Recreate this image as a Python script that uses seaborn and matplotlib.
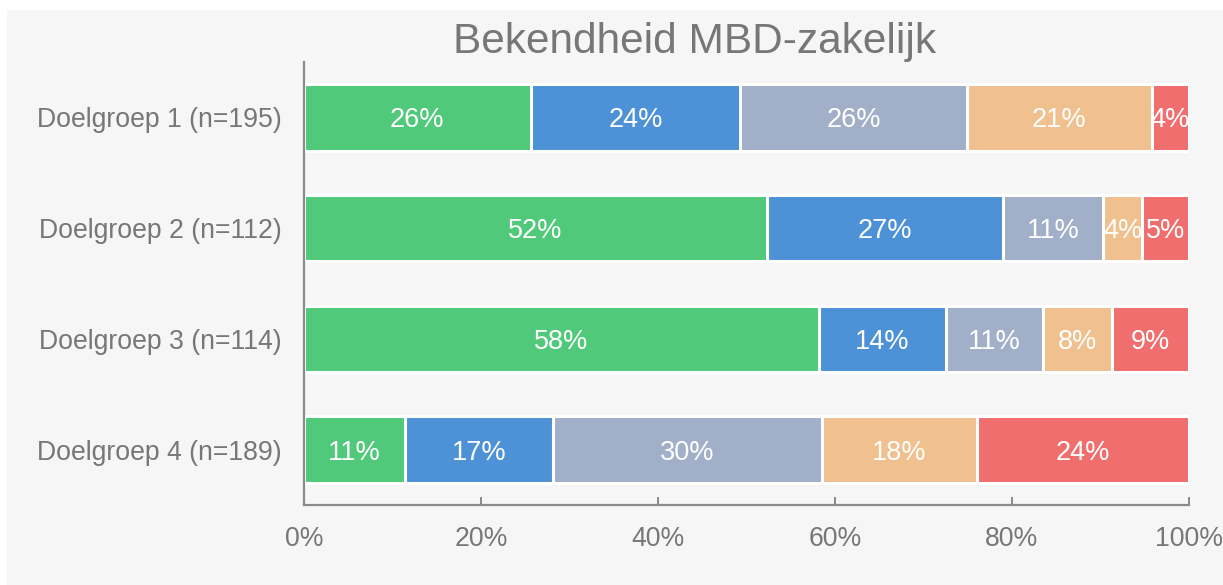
import numpy as np
import pandas as pd
import seaborn as sns
import matplotlib.pyplot as plt
from matplotlib.patches import Rectangle
from matplotlib.ticker import FuncFormatter

#Data (percentages per target group)
groups = ['Doelgroep 1 (n=195)', 'Doelgroep 2 (n=112)',
          'Doelgroep 3 (n=114)', 'Doelgroep 4 (n=189)']
series = ['Antwoord 1', 'Antwoord 2', 'Antwoord 3', 'Antwoord 4', 'Antwoord 5']
answer_1 = [25.6, 52.3, 58.2, 11.4]
answer_2 = [23.7, 26.7, 14.3, 16.7]
answer_3 = [25.6, 11.3, 11.0, 30.4]
answer_4 = [20.9, 4.4, 7.8, 17.6]
answer_5 = [4.2, 5.3, 8.7, 23.9]
xticks = [0, 20, 40, 60, 80, 100]

colors = ['#50C97A', '#4D91D6', '#A2AFC9', '#F0C18E', '#F06E6E']
bg = '#F6F6F6'
grey_txt = '#777777'

sns.set_theme(style='white')
plt.rcParams['font.family'] = ['Liberation Sans', 'DejaVu Sans']

df = pd.DataFrame({'group': groups, series[0]: answer_1, series[1]: answer_2,
                   series[2]: answer_3, series[3]: answer_4, series[4]: answer_5})
cum = df[series].cumsum(axis=1)

fig = plt.figure(figsize=(12.23, 5.85), dpi=100)
fig.patch.set_facecolor('white')
fig.patches.append(Rectangle((7/1223, 0), 1, 1 - 10/585, transform=fig.transFigure,
                             facecolor=bg, edgecolor='none', zorder=-10))
ax = fig.add_axes([304/1223, 1 - 505/585, (1189-304)/1223, (505-62)/585])
ax.set_facecolor(bg)

#Stacked bars: draw cumulative totals from the back to the front
for name, col in reversed(list(zip(series, colors))):
    sns.barplot(x=cum[name], y=df['group'], orient='h', color=col, saturation=1,
                width=0.6, edgecolor='white', linewidth=2.2, ax=ax)

#Segment labels
for name in series:
    for i, (c, v) in enumerate(zip(cum[name], df[name])):
        ax.text(c - v/2, i, f"{v:.0f}%", ha='center', va='center_baseline',
                color='white', fontsize=19.5)

ax.set_xlim(0, 100)
ax.set_ylim(3.5, -0.5)
ax.set_xticks(xticks)
ax.xaxis.set_major_formatter(FuncFormatter(lambda v, p: f"{v:.0f}%"))
ax.set_xlabel('')
ax.set_ylabel('')

for s in ['top', 'right']:
    ax.spines[s].set_visible(False)
for s in ['left', 'bottom']:
    ax.spines[s].set_color('#8a8a8a')
    ax.spines[s].set_linewidth(1.6)

ax.tick_params(axis='x', direction='in', length=6, width=1.4, color='#8a8a8a',
               pad=15, labelsize=19.2, labelcolor=grey_txt, bottom=True)
ax.tick_params(axis='y', length=0, pad=16, labelsize=19.2, labelcolor=grey_txt)

fig.text(694.5/1223, 1 - 53/585, 'Bekendheid MBD-zakelijk', ha='center',
         va='baseline', fontsize=30.5, color=grey_txt)

fig.savefig('out.png', dpi=100, facecolor=fig.get_facecolor())
